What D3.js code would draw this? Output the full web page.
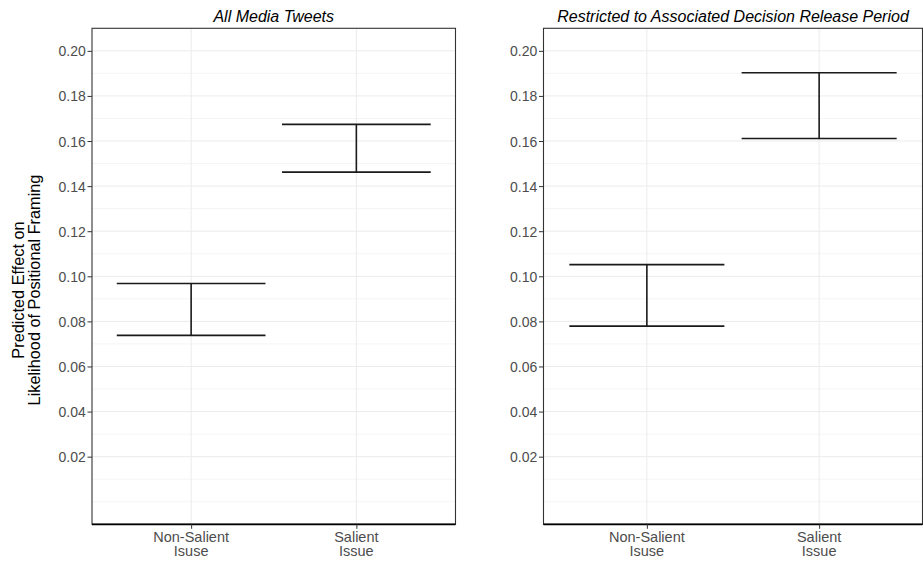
<!DOCTYPE html>
<html><head><meta charset="utf-8">
<script src="https://cdn.jsdelivr.net/npm/d3@7"></script>
<style>body{margin:0;background:#fff}svg{display:block}text{font-family:"Liberation Sans",Arial,sans-serif}</style>
</head><body><svg id="c" width="923" height="561"></svg>
<script>
const categories = ["Non-Salient\nIsuse", "Salient\nIssue"];
const panelTitles = ["All Media Tweets", "Restricted to Associated Decision Release Period"];
const lowerAll = [0.0738, 0.1462];
const upperAll = [0.0968, 0.1674];
const lowerRestricted = [0.0779, 0.1611];
const upperRestricted = [0.1052, 0.1903];
const yTicks = [0.02, 0.04, 0.06, 0.08, 0.10, 0.12, 0.14, 0.16, 0.18, 0.20];
const yMinor = [0.00, 0.01, 0.03, 0.05, 0.07, 0.09, 0.11, 0.13, 0.15, 0.17, 0.19];
const yTitle = ["Predicted Effect on", "Likelihood of Positional Framing"];

const svg = d3.select("#c");
const pTop = 28.3, pBottom = 524.3;
const panels = [
  {x0: 92, x1: 455.5, lo: lowerAll, hi: upperAll, title: panelTitles[0]},
  {x0: 543.5, x1: 922.5, lo: lowerRestricted, hi: upperRestricted, title: panelTitles[1]}
];
const y = d3.scaleLinear().domain([-0.01, 0.21]).range([pBottom, pTop]);

panels.forEach(p => {
  const g = svg.append("g");
  const x = d3.scaleLinear().domain([0.4, categories.length + 0.6]).range([p.x0, p.x1]);
  const idx = categories.map((c, i) => i + 1);
  g.selectAll(".ymin").data(yMinor).join("line")
    .attr("x1", p.x0).attr("x2", p.x1).attr("y1", d => y(d)).attr("y2", d => y(d))
    .attr("stroke", "#f2f2f2").attr("stroke-width", 0.8);
  g.selectAll(".ymaj").data(yTicks).join("line")
    .attr("x1", p.x0).attr("x2", p.x1).attr("y1", d => y(d)).attr("y2", d => y(d))
    .attr("stroke", "#ebebeb").attr("stroke-width", 1);
  g.selectAll(".xmaj").data(idx).join("line")
    .attr("x1", d => x(d)).attr("x2", d => x(d)).attr("y1", pTop).attr("y2", pBottom)
    .attr("stroke", "#ebebeb").attr("stroke-width", 1);
  idx.forEach((d, i) => {
    const eb = g.append("g").attr("stroke", "#1a1a1a").attr("stroke-width", 1.6);
    eb.append("line").attr("x1", x(d - 0.45)).attr("x2", x(d + 0.45)).attr("y1", y(p.hi[i])).attr("y2", y(p.hi[i]));
    eb.append("line").attr("x1", x(d - 0.45)).attr("x2", x(d + 0.45)).attr("y1", y(p.lo[i])).attr("y2", y(p.lo[i]));
    eb.append("line").attr("x1", x(d)).attr("x2", x(d)).attr("y1", y(p.hi[i])).attr("y2", y(p.lo[i]));
  });
  g.append("rect").attr("x", p.x0).attr("y", pTop).attr("width", p.x1 - p.x0).attr("height", pBottom - pTop)
    .attr("fill", "none").attr("stroke", "#333333").attr("stroke-width", 1.1);
  g.append("line").attr("x1", p.x0).attr("x2", p.x1).attr("y1", pBottom).attr("y2", pBottom)
    .attr("stroke", "#000").attr("stroke-width", 1.8);
  const ya = g.append("g").attr("transform", `translate(${p.x0},0)`)
    .call(d3.axisLeft(y).tickValues(yTicks).tickFormat(d3.format(".2f")).tickSize(4.5).tickPadding(1.8));
  ya.select(".domain").remove();
  ya.selectAll(".tick line").attr("stroke", "#333");
  ya.selectAll(".tick text").attr("fill", "#4d4d4d").style("font-size", "14px").attr("dy", "0.36em");
  const xa = g.append("g").attr("transform", `translate(0,${pBottom})`)
    .call(d3.axisBottom(x).tickValues(idx).tickFormat(() => "").tickSize(4.5));
  xa.select(".domain").remove();
  xa.selectAll(".tick line").attr("stroke", "#333");
  idx.forEach((d, i) => {
    const lines = categories[i].split("\n");
    const t = g.append("text").attr("text-anchor", "middle").attr("fill", "#4d4d4d").style("font-size", "14.5px");
    lines.forEach((l, j) => t.append("tspan").attr("x", x(d)).attr("y", 541.5 + j * 14.5).text(l));
  });
  g.append("text").attr("x", (p.x0 + p.x1) / 2).attr("y", 21.5).attr("text-anchor", "middle")
    .style("font-size", "16px").style("font-style", "italic").attr("fill", "#000").text(p.title);
});
const yt = svg.append("text").attr("transform", `translate(0,290) rotate(-90)`)
  .attr("text-anchor", "middle").style("font-size", "16.3px").attr("fill", "#000");
yTitle.forEach((l, j) => yt.append("tspan").attr("x", 0).attr("y", 24 + j * 16.2).text(l));
</script></body></html>
